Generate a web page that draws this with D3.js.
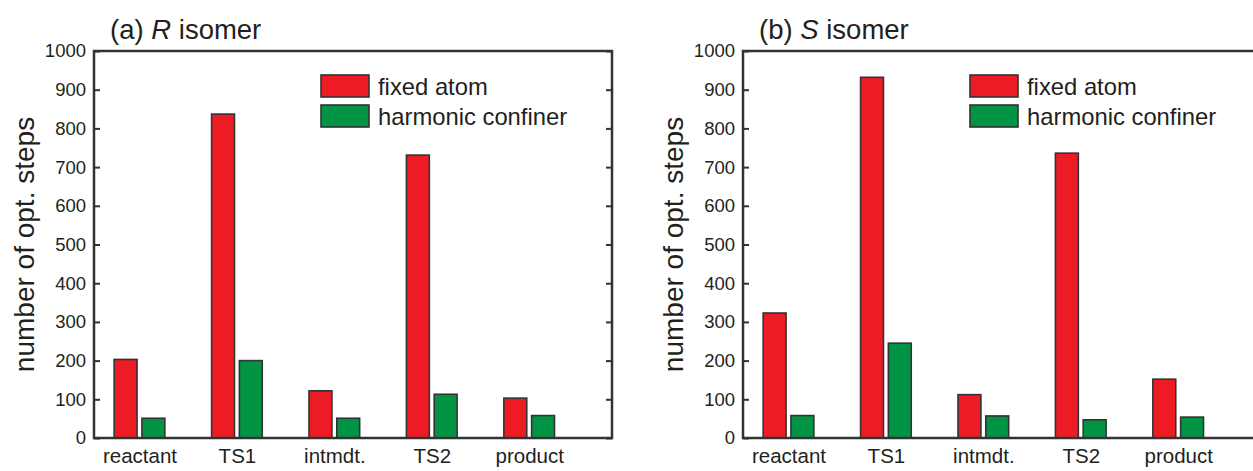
<!DOCTYPE html>
<html>
<head>
<meta charset="utf-8">
<script src="https://cdn.jsdelivr.net/npm/d3@7"></script>
<style>
  html, body { margin: 0; padding: 0; background: #fff; }
  svg { display: block; }
  text { font-family: "Liberation Sans", Arial, Helvetica, sans-serif; fill: #231f20; }
</style>
</head>
<body>
<svg id="chart" width="1253" height="471"></svg>
<script>
const categories = ["reactant", "TS1", "intmdt.", "TS2", "product"];
const seriesNames = ["fixed atom", "harmonic confiner"];
const seriesColors = ["#ed1c24", "#009444"];
const yTicks = [0, 100, 200, 300, 400, 500, 600, 700, 800, 900, 1000];

const rFixed = [203, 837, 122, 731, 103];
const rHarmonic = [51, 200, 51, 113, 58];
const sFixed = [323, 932, 112, 736, 152];
const sHarmonic = [58, 245, 57, 47, 54];

const panels = [
  { tag: "(a)", iso: "R", fixed: rFixed, harmonic: rHarmonic, left: 94 },
  { tag: "(b)", iso: "S", fixed: sFixed, harmonic: sHarmonic, left: 743 }
];

const svg = d3.select("#chart");
const plotTop = 51, plotBottom = 438, plotW = 518;
const y = d3.scaleLinear().domain([0, 1000]).range([plotBottom, plotTop]);
const axisColor = "#333";

panels.forEach(p => {
  const g = svg.append("g");
  const x = d3.scaleLinear().domain([0.533, 5.85]).range([p.left, p.left + plotW]);
  const step = x(2) - x(1);
  const bw = step * 0.235, gap = step * 0.05;

  // bars
  const series = [p.fixed, p.harmonic];
  series.forEach((vals, si) => {
    g.selectAll(null).data(vals).enter().append("rect")
      .attr("x", (d, i) => si === 0 ? x(i + 1) - gap / 2 - bw : x(i + 1) + gap / 2)
      .attr("y", d => y(d))
      .attr("width", bw)
      .attr("height", d => y(0) - y(d))
      .attr("fill", seriesColors[si])
      .attr("stroke", axisColor)
      .attr("stroke-width", 1.6);
  });

  // left axis
  const yAxisL = d3.axisLeft(y).tickValues(yTicks).tickSize(-6).tickPadding(8).tickFormat(d3.format("d"));
  const ga = g.append("g").attr("transform", `translate(${p.left},0)`).call(yAxisL);
  ga.select(".domain").remove();
  ga.selectAll(".tick line").attr("stroke", axisColor).attr("stroke-width", 2);
  ga.selectAll(".tick text").attr("font-size", 18.5).attr("fill", "#231f20")
    .attr("font-family", "'Liberation Sans', Arial, sans-serif");

  // right ticks
  const yAxisR = d3.axisRight(y).tickValues(yTicks).tickSize(-6).tickFormat("");
  const gr = g.append("g").attr("transform", `translate(${p.left + plotW},0)`).call(yAxisR);
  gr.select(".domain").remove();
  gr.selectAll(".tick line").attr("stroke", axisColor).attr("stroke-width", 2);

  // frame
  g.append("rect").attr("x", p.left).attr("y", plotTop).attr("width", plotW).attr("height", plotBottom - plotTop)
    .attr("fill", "none").attr("stroke", axisColor).attr("stroke-width", 2.5);

  // category labels
  const xAxis = d3.axisBottom(x).tickValues(d3.range(1, 6)).tickSize(0).tickPadding(10)
    .tickFormat(d => categories[d - 1]);
  const gx = g.append("g").attr("transform", `translate(0,${plotBottom})`).call(xAxis);
  gx.select(".domain").remove();
  gx.selectAll(".tick text").attr("font-size", 20.5).attr("fill", "#231f20")
    .attr("font-family", "'Liberation Sans', Arial, sans-serif");

  // title
  const t = g.append("text").attr("x", p.left + 16).attr("y", 39).attr("font-size", 27.5);
  t.append("tspan").text(p.tag + " ");
  t.append("tspan").attr("font-style", "italic").text(p.iso);
  t.append("tspan").text(" isomer");

  // y label
  g.append("text")
    .attr("transform", `translate(${p.left - 60},${(plotTop + plotBottom) / 2}) rotate(-90)`)
    .attr("text-anchor", "middle").attr("font-size", 28)
    .text("number of opt. steps");

  // legend
  const lx = p.left + 227, ly = 75;
  seriesNames.forEach((name, i) => {
    g.append("rect").attr("x", lx).attr("y", ly + i * 30).attr("width", 48).attr("height", 22)
      .attr("fill", seriesColors[i]).attr("stroke", axisColor).attr("stroke-width", 1.6);
    g.append("text").attr("x", lx + 57).attr("y", ly + i * 30 + 11).attr("dy", "0.36em")
      .attr("font-size", 23.8).text(name);
  });
});
</script>
</body>
</html>
